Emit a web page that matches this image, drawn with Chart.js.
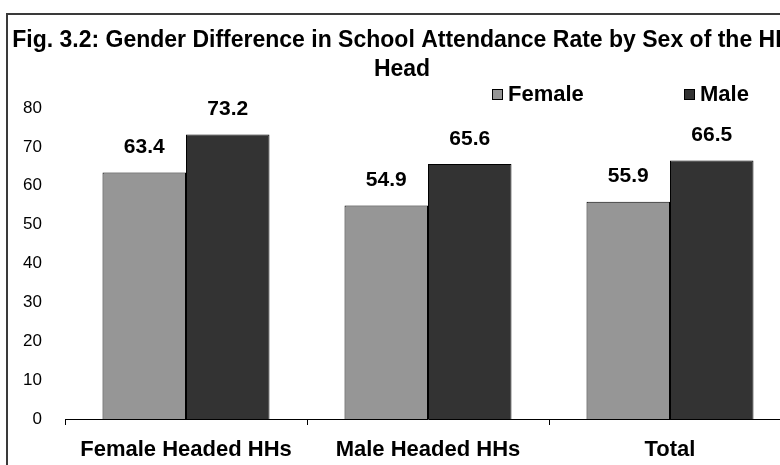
<!DOCTYPE html>
<html>
<head>
<meta charset="utf-8">
<script src="https://cdn.jsdelivr.net/npm/chart.js@4.4.1/dist/chart.umd.min.js"></script>
<style>
  html, body { margin: 0; padding: 0; background: #fff; overflow: hidden; }
  #wrap { position: relative; width: 780px; height: 465px; overflow: hidden; }
  /* outer chart frame, cut off at right and bottom like the source image */
  #frame { position: absolute; left: 6px; top: 13px; width: 840px; height: 520px; border: 2px solid #3a3a3a; }
  #chart { position: absolute; left: 0; top: 0; }
</style>
</head>
<body>
<div id="wrap">
  <div id="frame"></div>
  <canvas id="chart" width="804" height="465"></canvas>
</div>
<script>
// data
const titleLines = ['Fig. 3.2: Gender Difference in School Attendance Rate by Sex of the HH', 'Head']
const categories = ['Female Headed HHs', 'Male Headed HHs', 'Total']
const femaleValues = [63.4, 54.9, 55.9]
const maleValues = [73.2, 65.6, 66.5]
const seriesNames = ['Female', 'Male']
const yMin = 0
const yMax = 80
const yStep = 10

const FONT = '"Liberation Sans", Arial, sans-serif'
const FEMALE_COLOR = '#969696'
const MALE_COLOR = '#333333'

// Title, legend and value labels are drawn by hand so they sit where the
// original Excel chart put them (title centred on the uncropped chart).
const annotate = {
  id: 'annotate',
  afterDatasetsDraw(chart) {
    const ctx = chart.ctx
    ctx.save()
    ctx.fillStyle = '#000'
    ctx.textAlign = 'center'
    ctx.textBaseline = 'middle'

    // value labels above each bar
    ctx.font = 'bold 21px ' + FONT
    chart.data.datasets.forEach((ds, i) => {
      chart.getDatasetMeta(i).data.forEach((bar, j) => {
        ctx.fillText(ds.data[j].toFixed(1), bar.x, bar.y - 25)
      })
    })

    // title
    ctx.font = 'bold 23px ' + FONT
    titleLines.forEach((line, k) => ctx.fillText(line, 402, 41 + k * 29))

    // legend
    const legendX = [492, 684]
    ctx.font = 'bold 22px ' + FONT
    ctx.textAlign = 'left'
    chart.data.datasets.forEach((ds, i) => {
      const x = legendX[i]
      ctx.fillStyle = ds.backgroundColor
      ctx.fillRect(x, 89, 11, 11)
      ctx.strokeStyle = '#000'
      ctx.lineWidth = 1
      ctx.strokeRect(x + 0.5, 89.5, 10, 10)
      ctx.fillStyle = '#000'
      ctx.fillText(ds.label, x + 16, 95)
    })
    ctx.restore()
  }
}

new Chart(document.getElementById('chart'), {
  type: 'bar',
  data: {
    labels: categories,
    datasets: [
      {
        label: seriesNames[0],
        data: femaleValues,
        backgroundColor: FEMALE_COLOR,
        borderColor: '#000',
        borderWidth: 1,
      },
      {
        label: seriesNames[1],
        data: maleValues,
        backgroundColor: MALE_COLOR,
        borderColor: '#000',
        borderWidth: 1,
      },
    ],
  },
  options: {
    responsive: false,
    animation: false,
    events: [],
    layout: { padding: { top: 108, right: 13, left: 0, bottom: 0 } },
    datasets: {
      bar: { categoryPercentage: 0.69, barPercentage: 1.0 },
    },
    plugins: {
      legend: { display: false },
      title: { display: false },
      tooltip: { enabled: false },
    },
    scales: {
      x: {
        grid: {
          display: true,
          drawOnChartArea: false,
          drawTicks: true,
          tickLength: 6,
          color: '#000',
        },
        border: { display: true, color: '#000', width: 1 },
        ticks: {
          color: '#000',
          padding: 12,
          maxRotation: 0,
          autoSkip: false,
          font: { family: FONT, size: 22, weight: 'bold' },
        },
        afterFit: scale => { scale.height = 46 },
      },
      y: {
        min: yMin,
        max: yMax,
        grid: { display: false, drawTicks: false },
        border: { display: false },
        ticks: {
          stepSize: yStep,
          color: '#000',
          padding: 23,
          font: { family: FONT, size: 17 },
        },
        afterFit: scale => { scale.width = 65 },
      },
    },
  },
  plugins: [annotate],
})
</script>
</body>
</html>
